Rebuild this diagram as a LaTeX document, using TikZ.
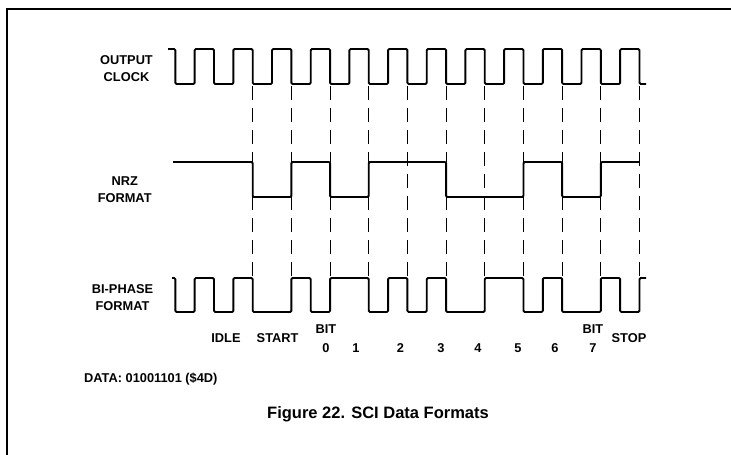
\documentclass[tikz,border=0pt]{standalone}
\usepackage{fontspec}
\setmainfont{Liberation Sans}
\begin{document}
\begin{tikzpicture}[x=1pt,y=-1pt,
  wave/.style={line width=1.9pt, line join=round, rounded corners=1.2pt},
  guide/.style={line width=1.1pt, dash pattern=on 14pt off 8pt},
  lbl/.style={font=\fontsize{12.8}{14}\selectfont\bfseries, inner sep=0pt, anchor=base},
  captxt/.style={font=\fontsize{16.5}{19}\selectfont\bfseries, inner sep=0pt, anchor=base},
  frameline/.style={line width=1.8pt}]
\useasboundingbox (0,0) rectangle (731,455);
\fill[white] (0,0) rectangle (731,455);
% frame
\draw[frameline] (7,455) -- (7,9) -- (731,9);
% dashed guides at the bit boundaries
\foreach \x in {252.7,291.38,330.06,368.74,407.42,446.1,484.78,523.46,562.14,600.82,639.5}
  \draw[guide] (\x,86) -- (\x,278);
% output clock (high 49, low 84)
\draw[wave] (168,49) -- (175.34,49) -- (175.34,84)
  -- (194.68,84) -- (194.68,49) -- (214.02,49) -- (214.02,84)
  -- (233.36,84) -- (233.36,49) -- (252.7,49) -- (252.7,84)
  -- (272.04,84) -- (272.04,49) -- (291.38,49) -- (291.38,84)
  -- (310.72,84) -- (310.72,49) -- (330.06,49) -- (330.06,84)
  -- (349.4,84) -- (349.4,49) -- (368.74,49) -- (368.74,84)
  -- (388.08,84) -- (388.08,49) -- (407.42,49) -- (407.42,84)
  -- (426.76,84) -- (426.76,49) -- (446.1,49) -- (446.1,84)
  -- (465.44,84) -- (465.44,49) -- (484.78,49) -- (484.78,84)
  -- (504.12,84) -- (504.12,49) -- (523.46,49) -- (523.46,84)
  -- (542.8,84) -- (542.8,49) -- (562.14,49) -- (562.14,84)
  -- (581.48,84) -- (581.48,49) -- (600.82,49) -- (600.82,84)
  -- (620.16,84) -- (620.16,49) -- (639.5,49) -- (639.5,84) -- (646,84);
% NRZ (high 162, low 197)
\draw[wave] (173,162) -- (252.7,162) -- (252.7,197) -- (291.38,197)
  -- (291.38,162) -- (330.06,162) -- (330.06,197) -- (368.74,197)
  -- (368.74,162) -- (446.1,162) -- (446.1,197) -- (523.46,197)
  -- (523.46,162) -- (562.14,162) -- (562.14,197) -- (600.82,197)
  -- (600.82,162) -- (639.5,162);
% Bi-phase (high 278, low 312)
\draw[wave] (172,278) -- (175.34,278) -- (175.34,312)
  -- (194.68,312) -- (194.68,278) -- (214.02,278) -- (214.02,312)
  -- (233.36,312) -- (233.36,278) -- (252.7,278) -- (252.7,312)
  -- (291.38,312) -- (291.38,278) -- (310.72,278) -- (310.72,312)
  -- (330.06,312) -- (330.06,278) -- (368.74,278) -- (368.74,312)
  -- (388.08,312) -- (388.08,278) -- (407.42,278) -- (407.42,312)
  -- (426.76,312) -- (426.76,278) -- (446.1,278) -- (446.1,312)
  -- (484.78,312) -- (484.78,278) -- (523.46,278) -- (523.46,312)
  -- (542.8,312) -- (542.8,278) -- (562.14,278) -- (562.14,312)
  -- (600.82,312) -- (600.82,278) -- (620.16,278) -- (620.16,312)
  -- (639.5,312) -- (639.5,278) -- (646,278);
% signal labels
\node[lbl] (out1) at (126.5,64.3) {OUTPUT};
\node[lbl] (out2) at (126.5,81.7) {CLOCK};
\node[lbl] (nrz1) at (124.7,185) {NRZ};
\node[lbl] (nrz2) at (124.7,202) {FORMAT};
\node[lbl] (bip1) at (122.5,293) {BI-PHASE};
\node[lbl] (bip2) at (122.5,310.5) {FORMAT};
% bit labels
\node[lbl] (idle) at (226,342) {IDLE};
\node[lbl] (start) at (277.6,342) {START};
\node[lbl] (bitA) at (326,333.5) {BIT};
\node[lbl] (b0) at (326,352) {0};
\node[lbl] (b1) at (356,352) {1};
\node[lbl] (b2) at (400.5,352) {2};
\node[lbl] (b3) at (441,352) {3};
\node[lbl] (b4) at (478,352) {4};
\node[lbl] (b5) at (518,352) {5};
\node[lbl] (b6) at (555,352) {6};
\node[lbl] (bitB) at (593,333.5) {BIT};
\node[lbl] (b7) at (593,352) {7};
\node[lbl] (stop) at (629,342) {STOP};
% data and caption
\node[lbl, anchor=base west] (data) at (84,382) {DATA: 01001101 (\$4D)};
\node[captxt] (caption) at (378,418) {Figure 22. SCI Data Formats};
\end{tikzpicture}
\end{document}
